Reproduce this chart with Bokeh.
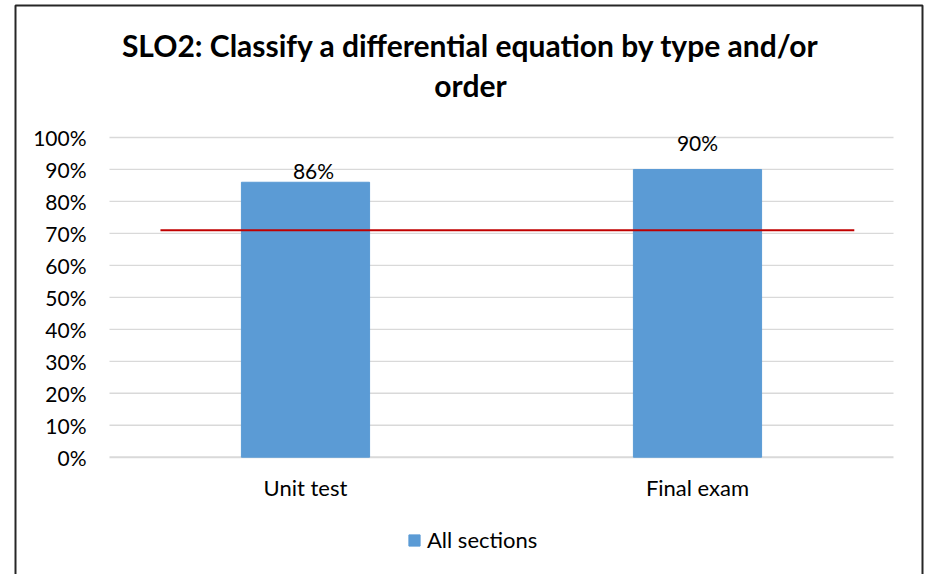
from bokeh.plotting import figure
from bokeh.models import (Range1d, FixedTicker, Legend, LegendItem, Label, BoxAnnotation,
                          ColumnDataSource, NumeralTickFormatter)
from bokeh.core.properties import value
from bokeh.embed import file_html
from bokeh.resources import INLINE

# ---- data ----
categories = ["Unit test", "Final exam"]
scores = [0.86, 0.90]
score_labels = ["86%", "90%"]
target = 0.71
target_span = [0.13, 1.90]          # x-extent of the target line, in category units
y_ticks = [i / 10 for i in range(11)]
series_name = "All sections"
title_lines = ["SLO2: Classify a differential equation by type and/or", "order"]

# ---- styles / layout ----
FONT = "Lato"
BAR_COLOR = "#5B9BD5"
TARGET_COLOR = "#C00000"
GRID_COLOR = "#D9D9D9"
BORDER_COLOR = "#262626"
label_dx = [8, 0]
label_dy = [-12, -27]

W, H = 924, 574
# plot-area geometry (pixels): category axis 109..893, value 0 at 456.7, 1.0 at 137
PX_X0, PX_PER_CAT = 109.0, 392.0
PX_Y0, PX_PER_UNIT = 456.7, 319.7
def xd(px):
    return (px - PX_X0) / PX_PER_CAT
def yd(py):
    return (PX_Y0 - py) / PX_PER_UNIT

p = figure(width=W, height=H, output_backend="svg", toolbar_location=None, title=None,
           x_range=Range1d(xd(0), xd(W)), y_range=Range1d(yd(H), yd(0)),
           min_border=0)
p.outline_line_color = None
p.background_fill_color = "white"
p.border_fill_color = "white"

ncat = len(categories)
xpos = [i + 0.5 for i in range(ncat)]
src = ColumnDataSource(dict(x=xpos, top=scores, lab=score_labels, dx=label_dx, dy=label_dy))

# gridlines across the category span only
p.segment(x0=[0] * len(y_ticks), x1=[ncat] * len(y_ticks), y0=y_ticks, y1=y_ticks,
          line_color=GRID_COLOR, line_width=[2] + [1.3] * (len(y_ticks) - 1))

bars = p.vbar(x="x", top="top", width=0.327, bottom=0, source=src, color=BAR_COLOR)
p.line(x=target_span, y=[target, target], line_color=TARGET_COLOR, line_width=2)

p.text(x="x", y="top", text="lab", source=src, x_offset="dx", y_offset="dy",
       text_align="center", text_baseline="alphabetic",
       text_font=value(FONT), text_font_size="21px", text_color="#000000")

# axes placed at the data origin
p.xaxis.fixed_location = 0
p.xaxis.ticker = FixedTicker(ticks=xpos)
p.xaxis.major_label_overrides = {x: c for x, c in zip(xpos, categories)}
p.xaxis.major_tick_line_color = None
p.xaxis.minor_tick_line_color = None
p.xaxis.axis_line_color = None
p.xaxis.major_label_standoff = 11
p.xaxis.major_label_text_font = FONT
p.xaxis.major_label_text_font_size = "22px"
p.xaxis.major_label_text_color = "#000000"

p.yaxis.fixed_location = 0
p.yaxis.ticker = FixedTicker(ticks=y_ticks)
p.yaxis.formatter = NumeralTickFormatter(format="0%")
p.yaxis.major_tick_line_color = None
p.yaxis.minor_tick_line_color = None
p.yaxis.axis_line_color = None
p.yaxis.major_label_standoff = 17
p.yaxis.major_label_text_font = FONT
p.yaxis.major_label_text_font_size = "21px"
p.yaxis.major_label_text_color = "#000000"

p.xgrid.grid_line_color = None
p.ygrid.grid_line_color = None

# legend
legend = Legend(items=[LegendItem(label=series_name, renderers=[bars])],
                location=(407, 21), orientation="horizontal",
                glyph_width=14, glyph_height=14, label_height=14, label_standoff=6,
                padding=0, margin=0, border_line_color=None, background_fill_alpha=0,
                label_text_font=FONT, label_text_font_size="22px", label_text_color="#000000")
p.add_layout(legend, "center")

# title (screen units: x from left edge, y from bottom edge)
for t, yb in zip(title_lines, [H - 44, H - 84]):
    p.add_layout(Label(x=470, y=yb, x_units="screen", y_units="screen", text=t,
                       text_align="center", text_baseline="alphabetic",
                       text_font=FONT, text_font_style="bold", text_font_size="30px",
                       text_color="#000000"))

# chart border (open at the bottom, like the cropped original)
p.add_layout(BoxAnnotation(left=xd(15), right=xd(922), top=yd(5), bottom=yd(H + 20),
                           fill_alpha=0, line_color=BORDER_COLOR, line_alpha=1.0,
                           line_width=2))

open("out.html", "w").write(file_html(p, INLINE))
